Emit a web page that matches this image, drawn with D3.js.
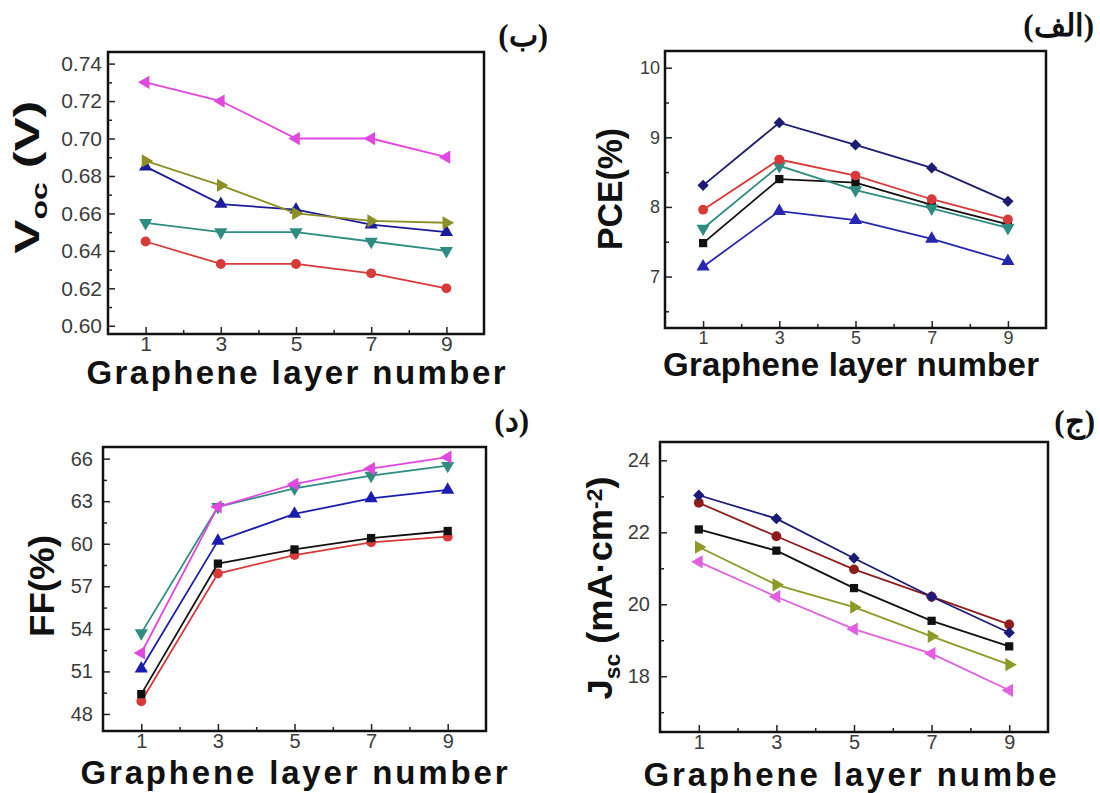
<!DOCTYPE html>
<html lang="en">
<head>
<meta charset="UTF-8">
<title>Graphene layer number</title>
<style>
  body { margin: 0; background: #fff; }
  svg { display: block; font-family: "Liberation Sans", Arial, sans-serif; }
  .frame { fill: none; stroke: #111; stroke-width: 2.5px; }
  .tick text { fill: #3c3c3c; }
  .tick line { stroke: #222; stroke-width: 1.5px; }
  .series { fill: none; stroke-width: 1.8px; }
  .title { font-weight: bold; fill: #111; }
  .tag { font-family: "Liberation Serif", "DejaVu Serif", serif; font-weight: bold; font-size: 31px; fill: #111; }
</style>
</head>
<body>
<script src="https://cdnjs.cloudflare.com/ajax/libs/d3/7.8.5/d3.min.js"></script>
<script>
const layers = [1, 3, 5, 7, 9];
const xMajor = [1, 3, 5, 7, 9];
const xMinor = [2, 4, 6, 8];

// (ب) open circuit voltage
const vocMagenta = [0.730, 0.720, 0.700, 0.700, 0.690];
const vocOlive = [0.688, 0.675, 0.660, 0.656, 0.655];
const vocNavy = [0.685, 0.665, 0.662, 0.654, 0.650];
const vocTeal = [0.655, 0.650, 0.650, 0.645, 0.640];
const vocRed = [0.645, 0.633, 0.633, 0.628, 0.620];
const vocTicks = [0.60, 0.62, 0.64, 0.66, 0.68, 0.70, 0.72, 0.74];
const vocMinor = [0.61, 0.63, 0.65, 0.67, 0.69, 0.71, 0.73];

// (الف) PCE
const pceNavy = [8.31, 9.21, 8.89, 8.56, 8.08];
const pceRed = [7.96, 8.68, 8.45, 8.11, 7.82];
const pceTeal = [7.69, 8.59, 8.24, 7.98, 7.70];
const pceBlack = [7.48, 8.40, 8.35, 8.03, 7.75];
const pceBlue = [7.14, 7.94, 7.81, 7.54, 7.22];
const pceTicks = [7, 8, 9, 10];
const pceMinor = [6.5, 7.5, 8.5, 9.5];

// (د) fill factor
const ffMagenta = [52.3, 62.6, 64.2, 65.3, 66.1];
const ffTeal = [53.7, 62.6, 63.9, 64.8, 65.5];
const ffNavy = [51.2, 60.2, 62.1, 63.2, 63.8];
const ffBlack = [49.4, 58.6, 59.6, 60.4, 60.9];
const ffRed = [48.9, 57.9, 59.2, 60.1, 60.5];
const ffTicks = [48, 51, 54, 57, 60, 63, 66];
const ffMinor = [49.5, 52.5, 55.5, 58.5, 61.5, 64.5];

// (ج) short circuit current
const jscNavy = [23.03, 22.38, 21.28, 20.21, 19.21];
const jscRed = [22.82, 21.89, 20.97, 20.21, 19.44];
const jscBlack = [22.08, 21.49, 20.45, 19.54, 18.83];
const jscOlive = [21.59, 20.54, 19.92, 19.11, 18.32];
const jscMagenta = [21.18, 20.21, 19.31, 18.63, 17.61];
const jscTicks = [18, 20, 22, 24];
const jscMinor = [17, 19, 21, 23];

const tri = d3.symbol().type(d3.symbolTriangle).size(76)();
const shapes = {
  circle: { d: d3.symbol().type(d3.symbolCircle).size(76)(), rot: 0 },
  square: { d: d3.symbol().type(d3.symbolSquare).size(68)(), rot: 0 },
  diamond: { d: d3.symbol().type(d3.symbolSquare).size(64)(), rot: 45 },
  up: { d: tri, rot: 0 },
  down: { d: tri, rot: 180 },
  left: { d: tri, rot: -90 },
  right: { d: tri, rot: 90 },
};

const panels = [
  {
    tag: '(ب)', tagAt: [548, 46],
    box: [108, 52, 484, 334], yDomain: [0.5956, 0.7462],
    yTicks: vocTicks, yMinor: vocMinor, fmt: d3.format('.2f'), fs: 21, yPad: 6, xPad: 2,
    yTitle: [['V'], ['oc', 'sub'], [' (V)']], yTitleAt: [39, 177], yTitleLen: 153,
    xTitle: 'Graphene layer number', xTitleAt: [296, 384], xTitleLen: 419,
    series: [
      [vocRed, '#d83a3a', 'circle'],
      [vocTeal, '#2f8c80', 'down'],
      [vocNavy, '#1c1c9a', 'up'],
      [vocOlive, '#8c9024', 'right'],
      [vocMagenta, '#e048e0', 'left'],
    ],
  },
  {
    tag: '(الف)', tagAt: [1094, 36],
    box: [665, 51, 1046, 328], yDomain: [6.26, 10.24],
    yTicks: pceTicks, yMinor: pceMinor, fmt: d3.format('d'), fs: 18, yPad: 5, xPad: 3,
    yTitle: [['PCE(%)']], yTitleAt: [622, 189], yTitleLen: 122,
    xTitle: 'Graphene layer number', xTitleAt: [851, 376], xTitleLen: 376,
    series: [
      [pceBlue, '#2626b0', 'up'],
      [pceBlack, '#111111', 'square'],
      [pceTeal, '#2f8c80', 'down'],
      [pceRed, '#d83a3a', 'circle'],
      [pceNavy, '#1c1c70', 'diamond'],
    ],
  },
  {
    tag: '(د)', tagAt: [529, 431],
    box: [103, 447, 486, 731], yDomain: [46.8, 66.82],
    yTicks: ffTicks, yMinor: ffMinor, fmt: d3.format('d'), fs: 20, yPad: 10, xPad: 3,
    yTitle: [['FF(%)']], yTitleAt: [54, 586], yTitleLen: 102,
    xTitle: 'Graphene layer number', xTitleAt: [294, 784], xTitleLen: 427,
    series: [
      [ffRed, '#d83a3a', 'circle'],
      [ffBlack, '#111111', 'square'],
      [ffNavy, '#1c1cb0', 'up'],
      [ffTeal, '#2f8c80', 'down'],
      [ffMagenta, '#e048e0', 'left'],
    ],
  },
  {
    tag: '(ج)', tagAt: [1095, 432],
    box: [660, 442, 1048, 732], yDomain: [16.45, 24.51],
    yTicks: jscTicks, yMinor: jscMinor, fmt: d3.format('d'), fs: 20, yPad: 10, xPad: 3,
    yTitle: [['J'], ['sc', 'sub'], [' (mA·cm'], ['-2', 'sup'], [')']], yTitleAt: [612, 588], yTitleLen: 223,
    xTitle: 'Graphene layer numbe', xTitleAt: [850, 786], xTitleLen: 413,
    series: [
      [jscMagenta, '#e060e0', 'left'],
      [jscOlive, '#8c9a28', 'right'],
      [jscBlack, '#111111', 'square'],
      [jscRed, '#8e1e1e', 'circle'],
      [jscNavy, '#1c1c78', 'diamond'],
    ],
  },
];

const svg = d3.select('body').append('svg')
  .attr('width', 1100)
  .attr('height', 793);

panels.forEach(p => {
  const [x0, y0, x1, y1] = p.box;
  const x = d3.scaleLinear().domain([0, 10]).range([x0, x1]);
  const y = d3.scaleLinear().domain(p.yDomain).range([y1, y0]);
  const g = svg.append('g');

  // y axis, ticks pointing inward
  g.append('g')
    .attr('transform', `translate(${x0},0)`)
    .call(d3.axisLeft(y).tickValues(p.yTicks).tickFormat(p.fmt).tickSize(-7).tickPadding(p.yPad))
    .attr('font-size', p.fs).attr('font-family', null)
    .call(a => a.select('.domain').remove());
  g.append('g')
    .attr('transform', `translate(${x0},0)`)
    .call(d3.axisLeft(y).tickValues(p.yMinor).tickFormat('').tickSize(-4))
    .call(a => a.select('.domain').remove());

  // x axis
  g.append('g')
    .attr('transform', `translate(0,${y1})`)
    .call(d3.axisBottom(x).tickValues(xMajor).tickFormat(d3.format('d')).tickSize(-7).tickPadding(p.xPad))
    .attr('font-size', p.fs).attr('font-family', null)
    .call(a => a.select('.domain').remove());
  g.append('g')
    .attr('transform', `translate(0,${y1})`)
    .call(d3.axisBottom(x).tickValues(xMinor).tickFormat('').tickSize(-4))
    .call(a => a.select('.domain').remove());

  g.append('rect')
    .attr('class', 'frame')
    .attr('x', x0).attr('y', y0)
    .attr('width', x1 - x0).attr('height', y1 - y0);

  const line = d3.line()
    .x((d, i) => x(layers[i]))
    .y(d => y(d));

  p.series.forEach(([vals, color, shape]) => {
    g.append('path')
      .datum(vals)
      .attr('class', 'series')
      .attr('stroke', color)
      .attr('d', line);
    g.selectAll(null)
      .data(vals)
      .enter().append('path')
      .attr('d', shapes[shape].d)
      .attr('fill', color)
      .attr('transform', (d, i) => `translate(${x(layers[i])},${y(d)}) rotate(${shapes[shape].rot})`);
  });

  // axis titles
  g.append('text')
    .attr('class', 'title')
    .attr('x', p.xTitleAt[0]).attr('y', p.xTitleAt[1])
    .attr('text-anchor', 'middle')
    .attr('font-size', 33)
    .attr('textLength', p.xTitleLen)
    .attr('lengthAdjust', 'spacing')
    .text(p.xTitle);

  const yt = g.append('text')
    .attr('class', 'title')
    .attr('text-anchor', 'middle')
    .attr('font-size', 35);
  let shift = 0;
  p.yTitle.forEach(([t, kind]) => {
    const want = kind === 'sub' ? 8 : kind === 'sup' ? -10 : 0;
    yt.append('tspan')
      .attr('dy', want - shift)
      .attr('font-size', kind ? 22 : 35)
      .text(t);
    shift = want;
  });
  // stretch along the text so it spans the same length as the original
  const natural = yt.node().getComputedTextLength();
  const sx = p.yTitleLen / natural;
  yt.attr('transform', `translate(${p.yTitleAt[0]},${p.yTitleAt[1]}) rotate(-90) scale(${sx},1)`);

  svg.append('text')
    .attr('class', 'tag')
    .attr('x', p.tagAt[0]).attr('y', p.tagAt[1])
    .attr('text-anchor', 'end')
    .text(p.tag);
});
</script>
</body>
</html>
